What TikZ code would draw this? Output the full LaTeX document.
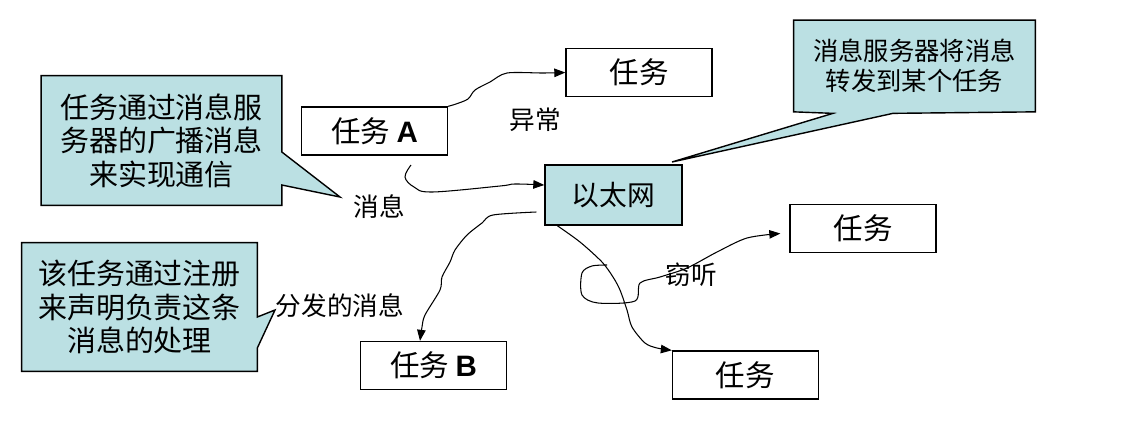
\documentclass[tikz,border=0pt]{standalone}
\usepackage{fontspec}
\usetikzlibrary{arrows.meta, calc, backgrounds}
\newfontfamily\cjk{Noto Sans CJK SC}
\newfontfamily\latin{Liberation Sans}
\definecolor{calloutblue}{RGB}{187,224,227}

\begin{document}
\begin{tikzpicture}[
  x=0.02cm, y=-0.02cm,
  font=\cjk,
  task/.style={rectangle, draw=black, line width=0.8pt, fill=white,
    minimum width=2.92cm, minimum height=0.96cm, inner sep=0pt,
    font=\cjk\fontsize{16.8}{18}\selectfont},
  net/.style={task, fill=calloutblue, minimum width=2.74cm, minimum height=1.2cm,
    font=\cjk\fontsize{15.8}{17}\selectfont},
  note/.style={align=center, inner sep=0pt, font=\cjk\fontsize{16.5}{19}\selectfont},
  bubble/.style={draw=black, line width=0.8pt, fill=calloutblue, line join=miter},
  arr/.style={-{Triangle[length=2.2mm, width=1.7mm]}, draw=black, line width=0.6pt},
  lbl/.style={inner sep=0pt, font=\cjk\fontsize{14.6}{16}\selectfont}
]
\useasboundingbox (0,0) rectangle (1137,424);
\node[task] (taskA) at (374.5,131) {任务 {\latin\bfseries A}};
\node[task] (exc) at (639,72.5) {任务};
\node[net] (eth) at (613.5,195) {以太网};
\node[task] (taskR) at (863,228.5) {任务};
\node[task] (taskB) at (433.5,365.5) {任务 {\latin\bfseries B}};
\node[task] (taskBR) at (745.5,375) {任务};
\node[note, minimum width=4.8cm, minimum height=2.58cm] (note1) at (161.5,140.5)
  {任务通过消息服\\务器的广播消息\\来实现通信};
\node[note, minimum width=4.7cm, minimum height=2.56cm] (note2) at (139.5,307)
  {该任务通过注册\\来声明负责这条\\消息的处理};
\node[note, minimum width=4.82cm, minimum height=1.82cm, font=\cjk\fontsize{14.4}{17}\selectfont] (note3) at (914.5,66)
  {消息服务器将消息\\转发到某个任务};
\coordinate (tip1) at (340,197);
\coordinate (tip2) at (275,310);
\coordinate (tip3) at (672,162);
\begin{scope}[on background layer]
  \filldraw[bubble] (note1.north west) -- (note1.north east) -- ($(note1.east)+(0,11.5)$)
    -- (tip1) -- ($(note1.east)+(0,44.5)$) -- (note1.south east) -- (note1.south west) -- cycle;
  \filldraw[bubble] (note2.north west) -- (note2.north east) -- ($(note2.east)+(0,10)$)
    -- (tip2) -- ($(note2.east)+(0,41)$) -- (note2.south east) -- (note2.south west) -- cycle;
  \filldraw[bubble] (note3.north west) -- (note3.north east) -- (note3.south east)
    -- ($(note3.south)+(-21.5,1.5)$) -- (tip3) -- ($(note3.south)+(-81.5,1.5)$) -- (note3.south west) -- cycle;
\end{scope}
\node[lbl] (l1) at (535,120) {异常};
\node[lbl] (l2) at (379,207) {消息};
\node[lbl] (l3) at (340,306) {分发的消息};
\node[lbl] (l4) at (691,275) {窃听};
\coordinate (msgfrom) at (411,165);
\coordinate (tap) at (607,265);
\draw[arr] plot[smooth, tension=0.5] coordinates {(taskA.north east) (456,104) (468,99)
  (475,90) (490,82) (507,73) (543,73) (exc.west)};
\draw[arr] plot[smooth, tension=0.6] coordinates {(msgfrom) (405,177) (414,187) (432,192)
  (500,186) (515,184) ([yshift=0.2cm]eth.west)};
\draw[arr] plot[smooth, tension=0.5] coordinates {([xshift=-0.16cm,yshift=-0.34cm]eth.west)
  (493,215) (482,223) (467,235) (455,250) (450,262) (442,277) (440,290) (425,315) (422,327)
  ([xshift=-0.27cm]taskB.north)};
\draw[arr] plot[smooth, tension=0.5] coordinates {([xshift=0.26cm]eth.south west)
  (580,242) (602,262) (613,277) (620,290) (627,310) (632,327) (645,343) (657,348)
  (taskBR.north west)};
\draw[arr] plot[smooth, tension=0.5] coordinates {(tap) (592,266) (582,273) (582,295)
  (598,303) (635,301) (640,283) (660,277) (687,268) (717,252) (747,238)
  ([xshift=-0.18cm,yshift=-0.1cm]taskR.west)};
\end{tikzpicture}
\end{document}
